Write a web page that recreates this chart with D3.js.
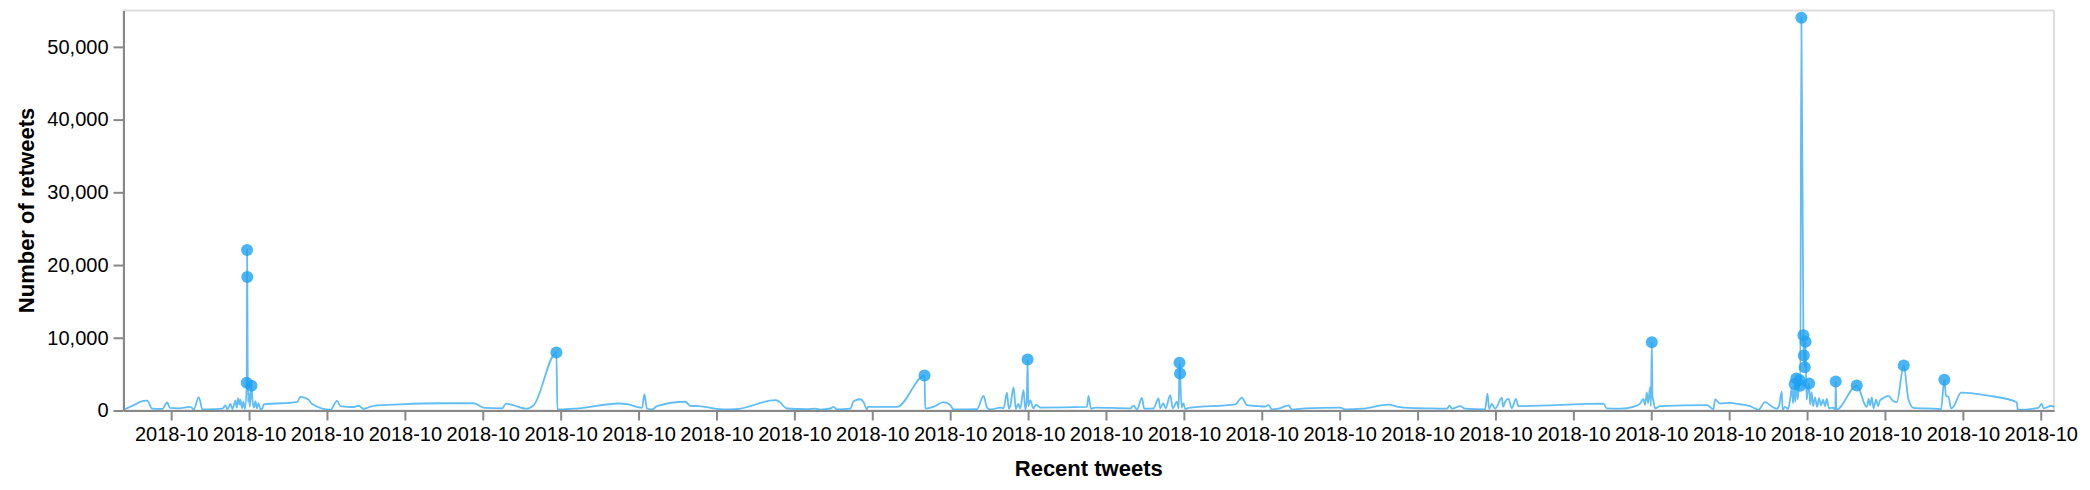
<!DOCTYPE html>
<html>
<head>
<meta charset="utf-8">
<script src="https://cdn.jsdelivr.net/npm/d3@7"></script>
<style>
  html, body { margin: 0; padding: 0; background: #fff; }
  svg { display: block; }
  text { font-family: "Liberation Sans", Arial, Helvetica, sans-serif; }
</style>
</head>
<body>
<svg id="chart" width="2090" height="490"></svg>
<script>
// ---- data: tweet time (day of October 2018, fractional) and retweet counts ----
const tweetDay = [
  1.388,1.516,1.645,1.692,1.756,1.888,1.949,1.985,2.094,2.248,2.290,2.354,2.402,2.543,2.658,2.697,2.723,2.761,2.787,2.825,
  2.842,2.860,2.877,2.889,2.909,2.928,2.947,2.970,2.974,2.977,2.986,2.998,3.009,3.031,3.043,3.063,3.082,3.101,3.120,3.146,
  3.172,3.188,3.617,3.659,3.762,3.813,4.044,4.130,4.173,4.340,4.404,4.472,4.596,4.943,5.456,5.880,6.021,6.248,6.299,6.376,
  6.569,6.654,6.945,6.958,6.996,7.227,7.741,7.869,8.045,8.075,8.107,8.173,8.237,8.601,8.665,8.768,9.114,9.242,9.755,9.797,
  9.906,10.162,10.269,10.333,10.461,10.504,10.547,10.718,10.760,10.846,10.889,10.932,10.943,11.317,11.671,11.680,11.783,11.916,12.002,12.044,
  12.344,12.429,12.473,12.515,12.643,12.686,12.729,12.752,12.771,12.814,12.843,12.874,12.900,12.942,12.964,12.984,12.994,13.003,13.028,13.067,
  13.105,13.157,13.756,13.776,13.807,13.862,14.312,14.354,14.398,14.462,14.491,14.611,14.675,14.697,14.735,14.767,14.825,14.858,14.911,14.934,
  14.944,14.951,14.972,14.993,15.018,15.060,15.659,15.745,15.809,15.958,16.044,16.087,16.130,16.215,16.343,16.387,16.557,17.007,17.071,17.289,
  17.627,17.755,17.884,18.098,18.376,18.410,18.444,18.547,18.611,18.868,18.897,18.919,18.954,18.996,19.082,19.099,19.124,19.167,19.210,19.262,
  19.295,20.386,20.429,20.599,20.770,20.856,20.899,20.920,20.943,20.959,20.985,20.996,21.007,21.015,21.028,21.049,21.114,21.713,21.798,21.820,
  21.884,22.012,22.140,22.269,22.375,22.461,22.547,22.612,22.641,22.675,22.686,22.718,22.757,22.782,22.804,22.821,22.840,22.850,22.862,22.879,
  22.904,22.913,22.927,22.953,22.959,22.970,22.981,22.994,23.007,23.026,23.039,23.060,23.077,23.103,23.129,23.154,23.180,23.205,23.231,23.253,
  23.282,23.334,23.363,23.368,23.376,23.638,23.702,23.732,23.767,23.790,23.809,23.831,23.854,23.886,23.912,23.937,23.976,24.044,24.104,24.152,
  24.241,24.300,24.365,24.686,24.720,24.762,24.784,24.814,24.849,24.878,24.977,25.327,25.692,25.705,25.969,26.012,26.035,26.140,26.170
];
const retweets = [
  100,700,1330,1350,250,220,1100,350,300,500,150,1850,150,180,250,700,150,900,200,1370,
  400,1700,800,1500,300,1200,200,3800,22070,18370,1200,2500,500,3400,1500,400,1300,300,1000,200,
  300,850,1150,1880,1500,850,100,1330,600,480,650,230,650,850,1000,1000,350,300,950,780,
  250,730,7970,150,140,300,960,830,370,2250,280,140,600,1200,640,600,140,170,1420,1280,
  275,180,250,120,275,500,150,250,1280,1550,1150,150,500,500,4800,270,500,1150,730,140,
  180,2000,400,150,400,300,2470,250,600,3200,200,900,300,2800,150,1500,7000,600,1420,300,
  800,400,500,2000,250,400,300,650,150,1740,250,300,1650,300,1000,300,2100,300,1200,300,
  6550,5080,400,1000,200,350,850,1780,750,600,550,750,140,250,700,140,300,400,140,250,
  800,500,350,300,250,650,250,600,250,150,2330,200,900,250,1740,500,1200,1600,300,1600,
  600,950,300,250,500,950,1600,800,2500,1000,3200,600,9400,2000,1300,300,600,750,200,1540,
  950,1050,860,600,100,1140,550,250,700,2600,150,500,200,1500,3100,1000,3650,1200,4400,1500,
  4200,3400,54000,10350,7550,5950,9450,1500,2500,3700,800,2500,600,1800,500,1700,700,1500,600,1600,
  300,400,100,4000,100,3430,2000,1000,500,1600,700,1800,300,1500,600,1400,1700,2000,1300,1150,
  6180,1600,370,230,150,4220,2000,1900,300,500,2450,2050,1140,100,370,900,300,650,450
];
const pointThreshold = 3300;           // tweets above this get a dot
const yTickValues = [0, 10000, 20000, 30000, 40000, 50000];
const yDomain = [0, 55000];
const xTickFormat = "%Y-%m";
const xTitle = "Recent tweets";
const yTitle = "Number of retweets";

(function () {
  // ---- build records ----
  const base = new Date(2018, 9, 1).getTime();
  const tweets = tweetDay.map((d, i) => ({
    date: new Date(base + (d - 1) * 86400000),
    retweets: retweets[i]
  }));

  // ---- layout ----
  const svg = d3.select("#chart");
  const mLeft = 123.5, mRight = 2054, mTop = 10.5, mBottom = 410.5;
  const blue = "#1da1f2";

  const x = d3.scaleTime().domain(d3.extent(tweets, d => d.date)).range([mLeft, mRight]);
  const y = d3.scaleLinear().domain(yDomain).range([mBottom, mTop]);

  // frame
  svg.append("rect")
    .attr("x", mLeft).attr("y", mTop)
    .attr("width", mRight - mLeft).attr("height", mBottom - mTop)
    .attr("fill", "none").attr("stroke", "#ddd").attr("stroke-width", 2);

  // line
  const line = d3.line()
    .x(d => x(d.date))
    .y(d => y(d.retweets))
    .curve(d3.curveMonotoneX);

  svg.append("path")
    .datum(tweets)
    .attr("d", line)
    .attr("fill", "none")
    .attr("stroke", blue)
    .attr("stroke-opacity", 0.7)
    .attr("stroke-width", 1.8);

  // points
  svg.append("g").selectAll("circle")
    .data(tweets.filter(d => d.retweets > pointThreshold))
    .join("circle")
    .attr("cx", d => x(d.date))
    .attr("cy", d => y(d.retweets))
    .attr("r", 6)
    .attr("fill", blue)
    .attr("fill-opacity", 0.8);

  // x axis
  const xTicks = d3.timeDay.range(d3.timeDay.ceil(x.domain()[0]), x.domain()[1]);
  const xAxis = d3.axisBottom(x)
    .tickValues(xTicks)
    .tickFormat(d3.timeFormat(xTickFormat))
    .tickSize(10).tickSizeOuter(0).tickPadding(6);
  const gx = svg.append("g").attr("transform", `translate(0,${mBottom})`).call(xAxis);

  // y axis
  const yAxis = d3.axisLeft(y)
    .tickValues(yTickValues)
    .tickFormat(d3.format(","))
    .tickSize(10).tickSizeOuter(0).tickPadding(5);
  const gy = svg.append("g").attr("transform", `translate(${mLeft},0)`).call(yAxis);

  [gx, gy].forEach(g => {
    g.select(".domain").attr("stroke", "#888").attr("stroke-width", 2);
    g.selectAll(".tick line").attr("stroke", "#888").attr("stroke-width", 2);
    g.selectAll(".tick text").attr("fill", "#000").attr("font-size", 20)
      .attr("font-family", '"Liberation Sans", Arial, Helvetica, sans-serif');
  });

  // titles
  svg.append("text")
    .attr("x", (mLeft + mRight) / 2).attr("y", 476)
    .attr("text-anchor", "middle")
    .attr("font-size", 22).attr("font-weight", "bold")
    .text(xTitle);

  svg.append("text")
    .attr("transform", `translate(34,${(mTop + mBottom) / 2}) rotate(-90)`)
    .attr("text-anchor", "middle")
    .attr("font-size", 22).attr("font-weight", "bold")
    .text(yTitle);
})();
</script>
</body>
</html>
